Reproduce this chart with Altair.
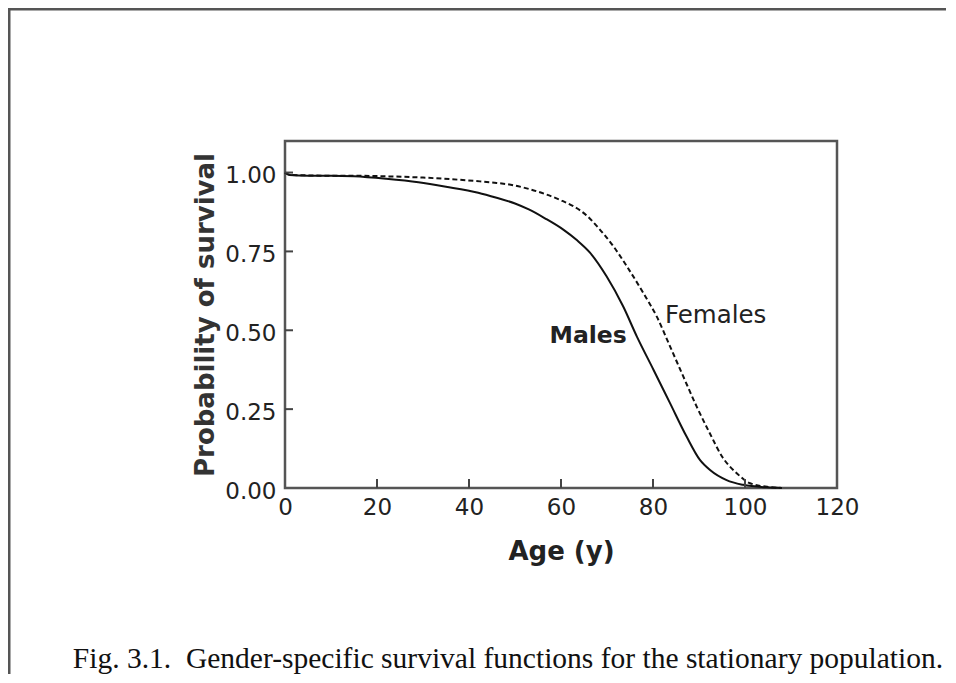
import altair as alt
import pandas as pd

# ---- data ----
male_age = [0, 1, 5, 10, 15, 22, 29, 35, 42, 46, 50, 53, 56.5, 60.5, 63.5, 66.3, 69.9, 73.5, 76.5, 80.1, 83.7, 87.3, 90.2, 92.4, 96.0, 99.6, 104.7, 108]
male_p = [1.0, 0.992, 0.99, 0.99, 0.988, 0.98, 0.969, 0.955, 0.936, 0.92, 0.902, 0.883, 0.855, 0.819, 0.785, 0.746, 0.671, 0.576, 0.48, 0.375, 0.269, 0.163, 0.089, 0.057, 0.025, 0.01, 0.002, 0.0]

female_age = [0, 1, 5, 10, 15, 22, 30, 36, 42.4, 46, 49.6, 53, 56.9, 60, 62.7, 65.5, 67.8, 71.4, 74.3, 77.9, 80.8, 83.7, 86.6, 89.5, 92.4, 95.0, 98.2, 101.1, 105.4, 108]
female_p = [1.0, 0.993, 0.991, 0.99, 0.99, 0.988, 0.984, 0.979, 0.972, 0.967, 0.96, 0.948, 0.93, 0.912, 0.893, 0.865, 0.83, 0.766, 0.703, 0.618, 0.544, 0.449, 0.353, 0.258, 0.172, 0.1, 0.047, 0.015, 0.003, 0.0]

x_ticks = [0, 20, 40, 60, 80, 100, 120]
y_ticks = [0.0, 0.25, 0.5, 0.75, 1.0]

series_labels = ["Males", "Females"]
label_age = [74.3, 82.6]
label_p = [0.46, 0.524]

x_title = "Age (y)"
y_title = "Probability of survival"
caption = "Fig. 3.1.\u00a0 Gender-specific survival functions for the stationary population."

# ---- layout ----
W, H = 552, 347
PAD = {"left": 277, "top": 133, "right": 111, "bottom": 186}

males = pd.DataFrame({"age": male_age, "p": male_p})
females = pd.DataFrame({"age": female_age, "p": female_p})
labels = pd.DataFrame({"label": series_labels, "age": label_age, "p": label_p})

xs = alt.Scale(domain=[0, 120], nice=False, zero=False)
ys = alt.Scale(domain=[0, 1.1], nice=False)

sans = "DejaVu Sans"

x_axis = alt.Axis(values=x_ticks, format="d", title=x_title, grid=False, domain=False,
                  ticks=False, labelFont=sans, labelFontSize=23, labelColor="#222",
                  labelPadding=8, titleFont=sans, titleFontSize=26, titleFontWeight="bold",
                  titleColor="#222", titlePadding=19, labelFlush=False)
y_axis = alt.Axis(values=y_ticks, format=".2f", title=y_title, grid=False, domain=False,
                  ticks=False, labelFont=sans, labelFontSize=23, labelColor="#222",
                  labelPadding=9, labelOffset=3, titleFont=sans, titleFontSize=26,
                  titleFontWeight="bold", titleColor="#333", titlePadding=6, labelFlush=False)

male_line = alt.Chart(males).mark_line(color="#111", strokeWidth=2, interpolate="monotone").encode(
    x=alt.X("age:Q", scale=xs, axis=x_axis),
    y=alt.Y("p:Q", scale=ys, axis=y_axis),
)
female_line = alt.Chart(females).mark_line(color="#111", strokeWidth=2, strokeDash=[5, 3],
                                           interpolate="monotone").encode(
    x=alt.X("age:Q", scale=xs),
    y=alt.Y("p:Q", scale=ys),
)

# inward tick marks
xt = alt.Chart(pd.DataFrame({"v": x_ticks[1:-1]})).mark_rule(color="#444", strokeWidth=2).encode(
    x=alt.X("v:Q", scale=xs), y=alt.value(H), y2=alt.value(H - 9))
yt = alt.Chart(pd.DataFrame({"v": y_ticks[1:]})).mark_rule(color="#444", strokeWidth=2).encode(
    y=alt.Y("v:Q", scale=ys), x=alt.value(0), x2=alt.value(8))

male_lab = alt.Chart(labels.iloc[[0]]).mark_text(
    font=sans, fontSize=23.5, fontWeight="bold", color="#222", align="right", baseline="alphabetic"
).encode(x=alt.X("age:Q", scale=xs), y=alt.Y("p:Q", scale=ys), text="label:N")
female_lab = alt.Chart(labels.iloc[[1]]).mark_text(
    font=sans, fontSize=24.5, color="#222", align="left", baseline="alphabetic"
).encode(x=alt.X("age:Q", scale=xs), y=alt.Y("p:Q", scale=ys), text="label:N")

# caption and page frame
cap = alt.Chart(pd.DataFrame({"t": [caption]})).mark_text(
    font="Liberation Serif", fontSize=29.5, color="#111", align="center", baseline="alphabetic"
).encode(x=alt.value(223), y=alt.value(527), text="t:N")

frame_top = alt.Chart(pd.DataFrame({"a": [0]})).mark_rule(color="#555", strokeWidth=3).encode(
    x=alt.value(-PAD["left"]), x2=alt.value(W + PAD["right"] - 2), y=alt.value(-PAD["top"] + 1))
frame_left = alt.Chart(pd.DataFrame({"a": [0]})).mark_rule(color="#555", strokeWidth=3).encode(
    x=alt.value(-PAD["left"] + 1), y=alt.value(-PAD["top"]), y2=alt.value(H + PAD["bottom"]))

chart = alt.layer(
    male_line, female_line, xt, yt, male_lab, female_lab, cap, frame_top, frame_left
).properties(
    width=W, height=H,
    autosize=alt.AutoSizeParams(type="none"),
    padding=PAD,
).configure_view(stroke="#555", strokeWidth=2.5)

chart.save("out.html", embed_options={"renderer": "svg", "actions": False})
